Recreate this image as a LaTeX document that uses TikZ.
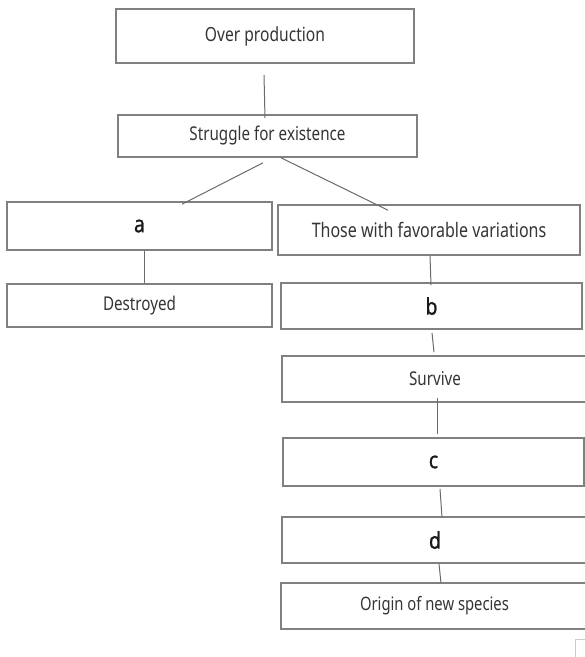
\documentclass[tikz,border=0pt]{standalone}
\usepackage{fontspec}
\setmainfont{Noto Sans}[FakeStretch=0.8]
\newfontfamily\letterfont{Noto Sans}[FakeStretch=0.85, FakeBold=1]
\usetikzlibrary{calc}
\definecolor{boxline}{HTML}{808080}
\definecolor{conn}{HTML}{6A6A6A}
\definecolor{txt}{HTML}{353535}
\begin{document}
\begin{tikzpicture}[x=1pt,y=-1pt,
  box/.style={draw=boxline, line width=1.6pt, fill=white, inner sep=0pt, text=txt,
    font=\fontsize{19}{22}\selectfont},
  letter/.style={text=black!90, font=\letterfont\fontsize{23}{27}\selectfont},
  link/.style={draw=conn, line width=1pt}]
\useasboundingbox (0,0) rectangle (585,657);
\begin{scope}
\clip (0,0) rectangle (585,657);
\node[box, minimum width=298pt, minimum height=54pt, font=\fontsize{19.5}{22}\selectfont] (over) at (265,36) {Over production};
\node[box, minimum width=299pt, minimum height=42pt] (struggle) at (267.5,136) {Struggle for existence};
\node[box, letter, minimum width=265pt, minimum height=48pt] (a) at (139.5,226) {a};
\node[box, minimum width=302pt, minimum height=50pt, font=\fontsize{20}{23}\selectfont] (those) at (429,230) {Those with favorable variations};
\node[box, minimum width=265pt, minimum height=43pt] (destroyed) at (139.5,305.5) {Destroyed};
\node[box, letter, minimum width=301pt, minimum height=46pt] (b) at (431.5,306) {b};
\node[box, minimum width=306pt, minimum height=46pt] (survive) at (435,379) {Survive};
\node[box, letter, minimum width=301pt, minimum height=48pt] (c) at (433.5,462) {c};
\node[box, letter, minimum width=306pt, minimum height=46pt] (d) at (435,540) {d};
\node[box, minimum width=307pt, minimum height=46pt, font=\fontsize{18.5}{22}\selectfont] (origin) at (434.5,606) {Origin of new species};

\draw[link] ($(over.south)+(-1,11)$) -- ($(struggle.north)+(-2.5,4)$);
\draw[link] ($(struggle.south)+(-4.5,5)$) -- ($(a.north)+(42.5,3)$);
\draw[link] ($(struggle.south)+(13.5,0)$) -- ($(those.north)+(-41,6)$);
\draw[link] ($(a.south)+(4.5,0)$) -- ($(destroyed.north)+(4.5,0)$);
\draw[link] ($(those.south)+(1,0)$) -- ($(b.north)+(-0.5,3)$);
\draw[link] ($(b.south)+(0.5,3)$) -- ($(survive.north)+(-1,-3)$);
\draw[link] ($(survive.south)+(2,-5)$) -- ($(c.north)+(3.5,-3)$);
\draw[link] ($(c.south)+(6.5,2)$) -- ($(d.north)+(7,1)$);
\draw[link] ($(d.south)+(4,0)$) -- ($(origin.north)+(6.5,1)$);

\draw[draw=black!20, line width=1pt] (575,660) -- (575,639) -- (590,639);
\end{scope}
\end{tikzpicture}
\end{document}
